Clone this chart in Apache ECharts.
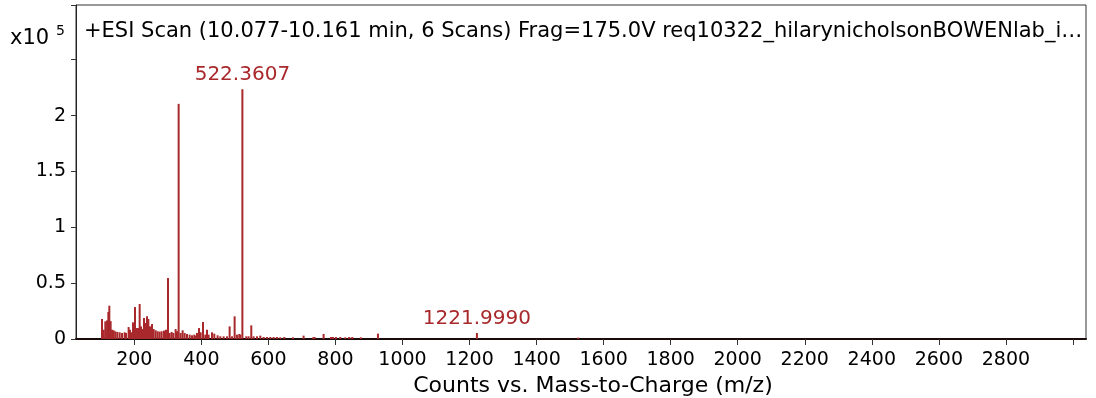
<!DOCTYPE html>
<html>
<head>
<meta charset="utf-8">
<script src="https://cdn.jsdelivr.net/npm/echarts@6/dist/echarts.min.js"></script>
<style>html,body{margin:0;padding:0;background:#fff}#c{width:1096px;height:398px}</style>
</head>
<body>
<div id="c"></div>
<script>
// m/z positions of the sticks
const mzValues = [
  103.6,108.5,113.5,118.6,122.5,125.4,129.3,133.5,138.3,143.3,149.3,156.2,163.3,171.1,175.2,
  183.0,187.1,193.0,196.0,202.0,206.9,211.0,215.9,219.9,223.9,228.9,232.8,237.8,241.8,246.8,
  252.8,257.6,263.6,269.6,275.5,281.5,288.6,294.5,300.5,305.4,311.3,316.3,323.2,327.3,332.2,
  338.1,344.1,350.1,357.1,365.0,372.0,378.9,383.0,387.0,393.0,397.8,404.9,411.8,416.8,421.6,
  431.7,438.6,448.4,456.5,466.4,476.5,484.3,491.4,499.2,506.3,513.2,516.0,522.3607,534.0,540.9,
  548.9,555.8,565.9,575.8,585.7,595.6,605.6,615.5,625.4,635.4,647.4,673.3,705.0,733.0,737.8,
  764.6,786.6,792.6,801.5,814.4,829.3,841.2,850.2,876.0,926.8,1221.9990,1524.0
];
// abundance (counts) of each stick
const counts = [
  17900,8300,15800,16700,24200,29800,16000,8300,7800,6900,6300,6000,5400,6000,5400,
  10700,8300,6000,14900,28600,9800,9800,31300,11300,8900,18800,14300,20300,17900,11300,
  13400,8900,7800,6900,6600,6900,7500,8300,54600,5400,6300,5400,8900,6900,210500,
  5400,7800,5400,4500,3900,3300,3900,3000,5400,9800,6000,15200,3900,8300,3900,
  6000,4800,3300,2400,2400,2400,11300,2400,20300,3900,4500,3900,223600,2400,2400,
  12200,2400,2400,3000,1800,1800,1800,1800,1800,1500,1800,1500,3000,1500,1800,
  4500,1800,1800,1800,1800,1500,1800,1800,1500,4800,5400,1200
];
// annotated peaks
const labelledPeaks = ['522.3607', '1221.9990'];
// tick values
const xTickValues = [200,400,600,800,1000,1200,1400,1600,1800,2000,2200,2400,2600,2800,3000];
const xLabelValues = [200,400,600,800,1000,1200,1400,1600,1800,2000,2200,2400,2600,2800];
const yLabelValues = [0, 50000, 100000, 150000, 200000];
const titleText = '+ESI Scan (10.077-10.161 min, 6 Scans) Frag=175.0V req10322_hilarynicholsonBOWENlab_i…';

const RED = '#a8282b';
const FONT = '"DejaVu Sans", "Liberation Sans", Arial, sans-serif';

const seriesData = mzValues.map((m, i) => {
  const item = { value: [m, counts[i]] };
  const lbl = labelledPeaks.find(p => parseFloat(p) === m);
  if (lbl) {
    item.label = { show: true, position: 'top', distance: 4, formatter: lbl,
      color: RED, fontSize: 20, fontFamily: FONT };
  }
  return item;
});

const chart = echarts.init(document.getElementById('c'), null, { renderer: 'canvas' });
chart.setOption({
  animation: false,
  title: {
    text: titleText, left: 84, top: 21, padding: 0,
    textStyle: { fontSize: 21, fontWeight: 'normal', color: '#000', fontFamily: FONT }
  },
  graphic: [
    { type: 'text', left: 10, top: 28, style: { text: 'x10', fontSize: 21, fill: '#000', fontFamily: FONT } },
    { type: 'text', left: 56, top: 24, style: { text: '5', fontSize: 14, fill: '#000', fontFamily: FONT } }
  ],
  grid: { left: 76, right: 10, top: 5, bottom: 59, outerBoundsMode: 'none', containLabel: false,
    show: true, borderColor: '#333', borderWidth: 1 },
  xAxis: {
    type: 'value', min: 26, max: 3039,
    name: 'Counts vs. Mass-to-Charge (m/z)', nameLocation: 'middle', nameGap: 31,
    nameTextStyle: { fontSize: 22, color: '#000', fontFamily: FONT, padding: [0, 0, 0, 24] },
    axisLine: { show: true, lineStyle: { color: '#1a0a0a', width: 2 } },
    axisTick: { show: true, length: 6, customValues: xTickValues, lineStyle: { color: '#333' } },
    axisLabel: { customValues: xLabelValues, fontSize: 19, color: '#000', margin: 12, fontFamily: FONT,
      formatter: v => String(v) },
    splitLine: { show: false }
  },
  yAxis: {
    type: 'value', min: 0, max: 299000, interval: 50000,
    axisLine: { show: true, lineStyle: { color: '#222', width: 1 } },
    axisTick: { show: true, length: 5, lineStyle: { color: '#333' } },
    axisLabel: {
      fontSize: 19, color: '#000', margin: 10, fontFamily: FONT,
      formatter: v => yLabelValues.indexOf(v) >= 0 ? String(v / 100000) : ''
    },
    splitLine: { show: false }
  },
  series: [{
    type: 'bar', data: seriesData, barWidth: 2,
    itemStyle: { color: RED },
    silent: true
  }]
});
</script>
</body>
</html>
